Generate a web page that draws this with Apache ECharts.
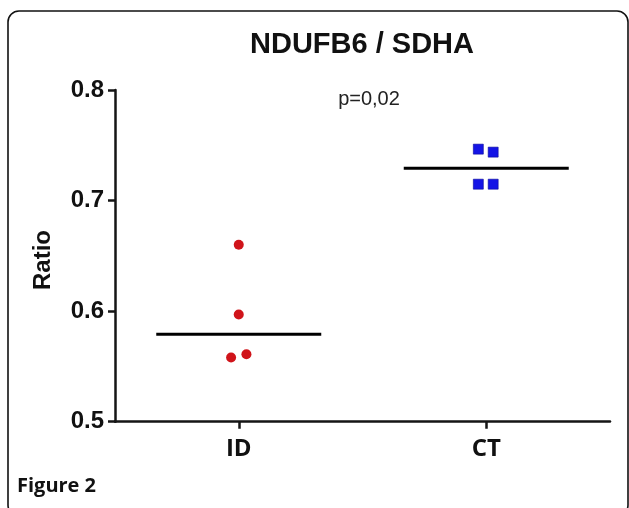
<!DOCTYPE html>
<html>
<head>
<meta charset="utf-8">
<script src="https://cdn.jsdelivr.net/npm/echarts@6/dist/echarts.min.js"></script>
<style>html,body{margin:0;padding:0;background:#fff}#c{width:629px;height:508px}</style>
</head>
<body>
<div id="c"></div>
<script>
var categories = ['ID', 'CT'];
var idValues = [0.660, 0.597, 0.558, 0.561];
var ctValues = [0.7465, 0.7438, 0.7148, 0.7148];
var idJitter = [0, 0, -0.031, 0.031];
var ctJitter = [-0.032, 0.028, -0.032, 0.028];
var yTicks = [0.5, 0.6, 0.7, 0.8];

function median(a){var s=a.slice().sort(function(x,y){return x-y});var n=s.length;return n%2?s[(n-1)/2]:(s[n/2-1]+s[n/2])/2;}
function pts(vals, jit, pos){return vals.map(function(v,i){return [pos+jit[i], v];});}
var halfW = 1/3;
var idMed = median(idValues), ctMed = median(ctValues);

var chart = echarts.init(document.getElementById('c'));
var axisColor = '#151515';
chart.setOption({
  animation: false,
  backgroundColor: '#fff',
  title: [{
    text: 'NDUFB6 / SDHA', left: 357, top: 25, textAlign: 'center',
    textStyle: {fontFamily: 'Liberation Sans', fontWeight: 'bold', fontSize: 29, color: '#111'}
  },{
    text: 'p=0,02', left: 364, top: 84, textAlign: 'center',
    textStyle: {fontFamily: 'Liberation Sans', fontWeight: 'normal', fontSize: 20, color: '#222'}
  }],
  graphic: [{
    type: 'rect', shape: {x: 8, y: 11, width: 620, height: 505, r: 11},
    style: {fill: 'none', stroke: '#111', lineWidth: 1.6}, z: -1
  },{
    type: 'text', left: 17, top: 476,
    style: {text: 'Figure 2', font: 'bold 20px "Open Sans"', fill: '#111'}
  },{
    type: 'text', x: 43, y: 260, rotation: Math.PI/2, originX: 0, originY: 0,
    style: {text: 'Ratio', font: 'bold 24px "Liberation Sans"', fill: '#111', align: 'center', verticalAlign: 'middle'}
  }],
  grid: {left: 115, right: 19, top: 90, bottom: 86.3, containLabel: false},
  xAxis: {
    type: 'value', min: 0.5, max: 2.5,
    axisLine: {show: true, onZero: false, lineStyle: {color: axisColor, width: 2.5}},
    axisTick: {show: true, customValues: [1, 2], length: 7, lineStyle: {color: axisColor, width: 2.5}},
    axisLabel: {customValues: [1, 2], margin: 15, formatter: function(v){return categories[Math.round(v)-1];},
      fontFamily: 'Open Sans', fontWeight: 'bold', fontSize: 24, color: '#111'},
    splitLine: {show: false}
  },
  yAxis: {
    type: 'value', min: 0.5, max: 0.8, interval: 0.1,
    axisLine: {show: true, lineStyle: {color: axisColor, width: 2.5}},
    axisTick: {show: true, customValues: yTicks, length: 7, lineStyle: {color: axisColor, width: 2.5}},
    axisLabel: {customValues: yTicks, margin: 11, formatter: function(v){return v.toFixed(1);},
      fontFamily: 'Liberation Sans', fontWeight: 'bold', fontSize: 24, color: '#111'},
    splitLine: {show: false}
  },
  series: [{
    type: 'scatter', name: categories[0], data: pts(idValues, idJitter, 1),
    symbol: 'circle', symbolSize: 10, itemStyle: {color: '#d0141a', opacity: 1}, z: 3
  },{
    type: 'scatter', name: categories[1], data: pts(ctValues, ctJitter, 2),
    symbol: 'rect', symbolSize: 10, itemStyle: {color: '#1414e6', borderColor: '#0a0a9a', borderWidth: 0.6, opacity: 1}, z: 3
  },{
    type: 'line', data: [[1-halfW, idMed],[1+halfW, idMed]], symbol: 'none',
    lineStyle: {color: '#000', width: 3}, z: 2
  },{
    type: 'line', data: [[2-halfW, ctMed],[2+halfW, ctMed]], symbol: 'none',
    lineStyle: {color: '#000', width: 3}, z: 2
  }]
});
</script>
</body>
</html>
